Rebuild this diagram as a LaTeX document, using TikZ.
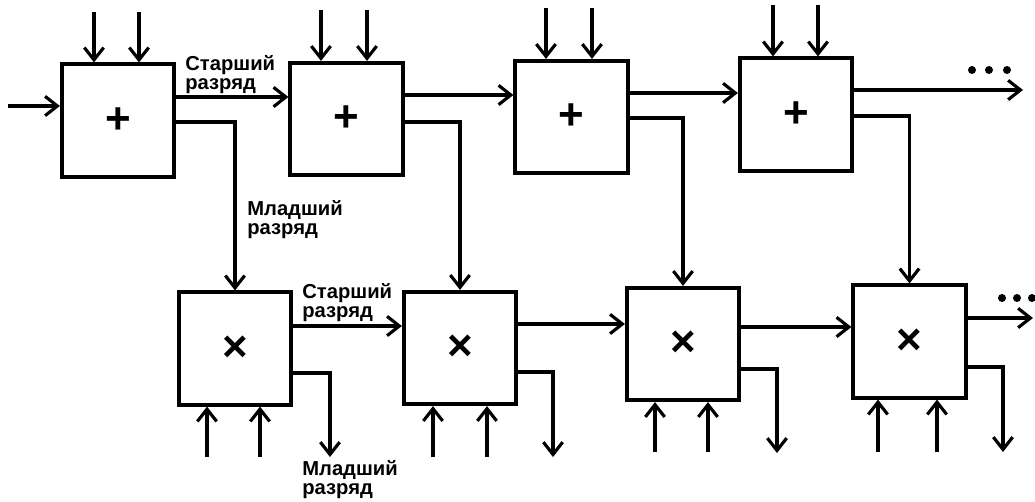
\documentclass[tikz,border=0pt]{standalone}
\usepackage{fontspec}
\setmainfont{Liberation Sans}
\usetikzlibrary{arrows.meta}
\begin{document}
\begin{tikzpicture}[x=0.02cm,y=-0.02cm,
  box/.style={draw,line width=2.1pt,minimum width=2.25cm,minimum height=2.25cm,
    inner sep=0pt,font=\bfseries\fontsize{25}{25}\selectfont},
  wire/.style={line width=1.8pt},
  sig/.style={wire,-{Straight Barb[length=7pt,width=11pt]}},
  lbl/.style={align=left,font=\bfseries\fontsize{11.5}{11}\selectfont,inner sep=0pt,anchor=north west},
  dot/.style={fill=black}]
\useasboundingbox (0,0) rectangle (1035,501);

% adders (top row) and multipliers (bottom row)
\node[box] (a1) at (118,120.5) {+};
\node[box] (a2) at (346.5,119) {+};
\node[box] (a3) at (571.5,117) {+};
\node[box] (a4) at (796,114.5) {+};
\node[box] (b1) at (235,348.5) {×};
\node[box] (b2) at (460,348) {×};
\node[box] (b3) at (683,344) {×};
\node[box] (b4) at (909.5,341.5) {×};

% operand inputs from above
\foreach \n/\x/\y [count=\i] in {a1/94/12,a1/139/12,a2/321/10,a2/367/10,
                                 a3/546/8,a3/592/8,a4/773/5,a4/818/5}{
  \coordinate (ti\i) at (\x,\y);
  \draw[sig] (ti\i) -- (ti\i |- \n.north);
}

% operand inputs from below
\foreach \n/\x/\y [count=\i] in {b1/207/457,b1/260/457,b2/433/457,b2/487/457,
                                 b3/655/452,b3/708/452,b4/878/452,b4/937/452}{
  \coordinate (bi\i) at (\x,\y);
  \draw[sig] (bi\i) -- (bi\i |- \n.south);
}

% carry-in of the first adder
\coordinate (inA) at (8,106);
\draw[sig] (inA) -- (inA -| a1.west);

% high-order digit chain, top row
\coordinate (ca1) at (0,97);
\coordinate (ca2) at (0,95);
\coordinate (ca3) at (0,93);
\coordinate (outA) at (1023,90);
\draw[sig] (a1.east |- ca1) -- (a2.west |- ca1);
\draw[sig] (a2.east |- ca2) -- (a3.west |- ca2);
\draw[sig] (a3.east |- ca3) -- (a4.west |- ca3);
\draw[sig] (a4.east |- outA) -- (outA);

% low-order digit from each adder to its multiplier
\coordinate (la1) at (0,122);
\coordinate (la2) at (0,122);
\coordinate (la3) at (0,118);
\coordinate (la4) at (0,116);
\draw[sig] (a1.east |- la1) -| (b1.north);
\draw[sig] (a2.east |- la2) -| (b2.north);
\draw[sig] (a3.east |- la3) -| (b3.north);
\draw[sig] (a4.east |- la4) -| (b4.north);

% high-order digit chain, bottom row
\coordinate (cb1) at (0,326);
\coordinate (cb2) at (0,324);
\coordinate (cb3) at (0,327);
\coordinate (outB) at (1033,318);
\draw[sig] (b1.east |- cb1) -- (b2.west |- cb1);
\draw[sig] (b2.east |- cb2) -- (b3.west |- cb2);
\draw[sig] (b3.east |- cb3) -- (b4.west |- cb3);
\draw[sig] (b4.east |- outB) -- (outB);

% low-order digit outputs of the multipliers
\foreach \n/\x/\y/\e [count=\i] in {b1/330/373/457,b2/553/372/457,
                                    b3/777/369/453,b4/1003/367/452}{
  \coordinate (mb\i) at (\x,\y);
  \coordinate (me\i) at (\x,\e);
  \draw[sig] (\n.east |- mb\i) -- (mb\i) -- (me\i);
}

% continuation marks
\foreach \x in {972,989,1007} \fill[dot] (\x,70) circle (4);
\foreach \x in {1002,1017,1032} \fill[dot] (\x,298) circle (4);

% labels
\node[lbl] (t1) at (185,55) {Старший\\разряд};
\node[lbl] (t2) at (247,200) {Младший\\разряд};
\node[lbl] (t3) at (302,283) {Старший\\разряд};
\node[lbl] (t4) at (302,460) {Младший\\разряд};
\end{tikzpicture}
\end{document}
